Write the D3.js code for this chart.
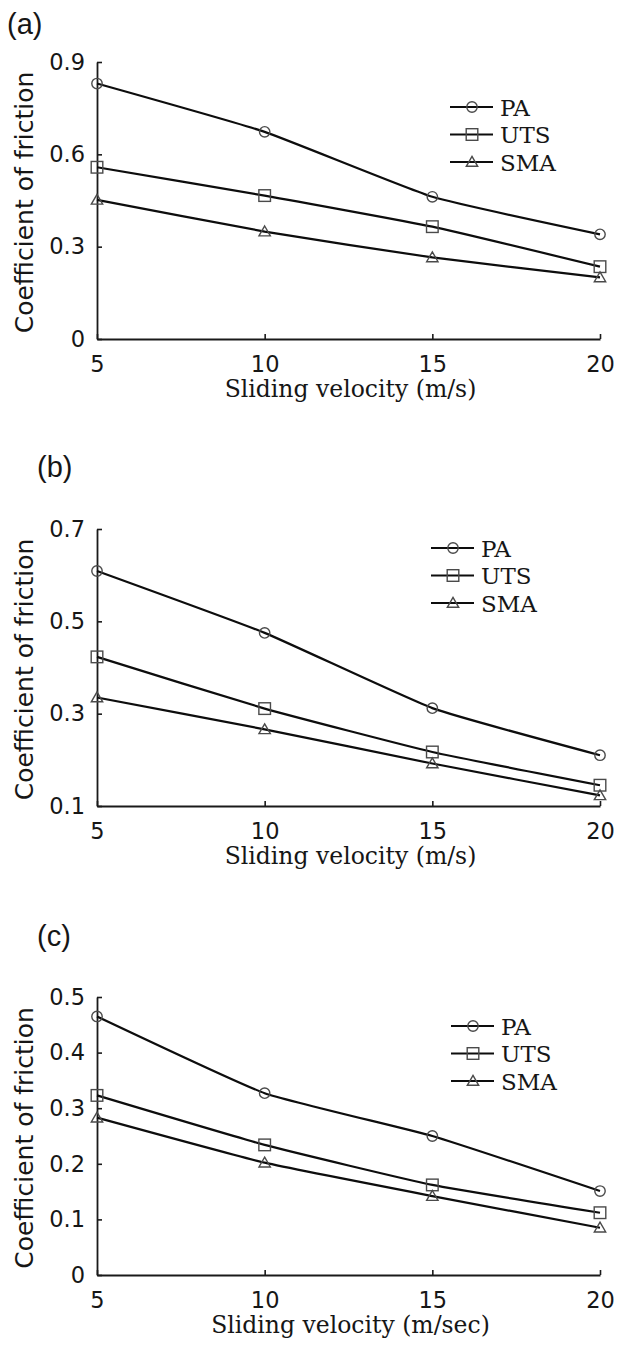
<!DOCTYPE html>
<html>
<head>
<meta charset="utf-8">
<script src="https://cdn.jsdelivr.net/npm/d3@7"></script>
<style>
  html, body { margin: 0; padding: 0; background: #fff; }
  svg { display: block; }
</style>
</head>
<body>
<svg id="chart" width="618" height="1349"></svg>
<script>
// ---- data ----
const velocity = [5, 10, 15, 20];
const seriesNames = ["PA", "UTS", "SMA"];

const aPA  = [0.830, 0.673, 0.462, 0.340];
const aUTS = [0.558, 0.466, 0.365, 0.235];
const aSMA = [0.452, 0.349, 0.265, 0.200];

const bPA  = [0.609, 0.475, 0.312, 0.210];
const bUTS = [0.423, 0.311, 0.217, 0.145];
const bSMA = [0.335, 0.266, 0.192, 0.123];

const cPA  = [0.465, 0.327, 0.250, 0.151];
const cUTS = [0.323, 0.234, 0.162, 0.112];
const cSMA = [0.283, 0.202, 0.142, 0.085];

const aYTicks = [0, 0.3, 0.6, 0.9];
const bYTicks = [0.1, 0.3, 0.5, 0.7];
const cYTicks = [0, 0.1, 0.2, 0.3, 0.4, 0.5];

const panelLabels = ["(a)", "(b)", "(c)"];
const xTitles = ["Sliding velocity (m/s)", "Sliding velocity (m/s)", "Sliding velocity (m/sec)"];
const yTitle = "Coefficient of friction";

// ---- layout ----
const svg = d3.select("#chart");
const xLeft = 97, xRight = 600;

const panels = [
  { label: panelLabels[0], labelPos: [7, 34], top: 62, bottom: 339, yTicks: aYTicks, fmt: d => d === 0 ? "0" : d3.format(".1f")(d),
    series: [aPA, aUTS, aSMA], xTitle: xTitles[0], legend: { x: 450, y: 107 } },
  { label: panelLabels[1], labelPos: [37, 477], top: 529, bottom: 806, yTicks: bYTicks, fmt: d3.format(".1f"),
    series: [bPA, bUTS, bSMA], xTitle: xTitles[1], legend: { x: 431, y: 548 } },
  { label: panelLabels[2], labelPos: [37, 946], top: 997, bottom: 1275, yTicks: cYTicks, fmt: d => d === 0 ? "0" : d3.format(".1f")(d),
    series: [cPA, cUTS, cSMA], xTitle: xTitles[2], legend: { x: 451, y: 1026 } }
];

const textCol = "#161616";
const markerCol = "#4a4a4a";

function drawMarker(g, type, x, y) {
  if (type === 0) {
    g.append("circle").attr("cx", x).attr("cy", y).attr("r", 5.2)
      .attr("fill", "none").attr("stroke", markerCol).attr("stroke-width", 1.4);
  } else if (type === 1) {
    g.append("rect").attr("x", x - 5.8).attr("y", y - 5.8).attr("width", 11.6).attr("height", 11.6)
      .attr("fill", "none").attr("stroke", markerCol).attr("stroke-width", 1.4);
  } else {
    const s = d3.symbol().type(d3.symbolTriangle).size(56)();
    g.append("path").attr("d", s).attr("transform", `translate(${x},${y + 1})`)
      .attr("fill", "none").attr("stroke", markerCol).attr("stroke-width", 1.4);
  }
}

panels.forEach(p => {
  const g = svg.append("g");
  const x = d3.scaleLinear().domain([5, 20]).range([xLeft, xRight]);
  const yMin = p.yTicks[0], yMax = p.yTicks[p.yTicks.length - 1];
  const y = d3.scaleLinear().domain([yMin, yMax]).range([p.bottom, p.top]);

  // panel label
  g.append("text").attr("x", p.labelPos[0]).attr("y", p.labelPos[1])
    .attr("font-family", "Liberation Sans, Arial, sans-serif").attr("font-size", 29)
    .attr("fill", textCol).text(p.label);

  // y axis
  const yAxis = d3.axisLeft(y).tickValues(p.yTicks).tickFormat(p.fmt).tickSizeInner(-5).tickSizeOuter(0).tickPadding(12);
  const ya = g.append("g").attr("transform", `translate(${xLeft},0)`).call(yAxis);
  ya.select(".domain").attr("stroke", "#1a1a1a").attr("stroke-width", 1.8);
  ya.selectAll(".tick line").attr("stroke", "#1a1a1a").attr("stroke-width", 1.6);
  ya.selectAll(".tick text").attr("font-family", "DejaVu Sans, sans-serif").attr("font-size", 22.5).attr("fill", textCol);

  // x axis
  const xAxis = d3.axisBottom(x).tickValues(velocity).tickSizeInner(-5).tickSizeOuter(0).tickPadding(17);
  const xa = g.append("g").attr("transform", `translate(0,${p.bottom})`).call(xAxis);
  xa.select(".domain").attr("stroke", "#1a1a1a").attr("stroke-width", 1.8);
  xa.selectAll(".tick line").attr("stroke", "#1a1a1a").attr("stroke-width", 1.6);
  xa.selectAll(".tick text").attr("font-family", "DejaVu Sans, sans-serif").attr("font-size", 22.5).attr("fill", textCol);

  // titles
  g.append("text").attr("x", (xLeft + xRight) / 2 + 2).attr("y", p.bottom + 58)
    .attr("text-anchor", "middle").attr("font-family", "DejaVu Serif, serif").attr("font-size", 23.5)
    .attr("fill", textCol).text(p.xTitle);
  g.append("text").attr("transform", `translate(33,${(p.top + p.bottom) / 2 + 2}) rotate(-90)`)
    .attr("text-anchor", "middle").attr("font-family", "DejaVu Sans, sans-serif").attr("font-size", 25)
    .attr("fill", textCol).text(yTitle);

  // lines and markers
  const line = d3.line().x((d, i) => x(velocity[i])).y(d => y(d)).curve(d3.curveCardinal.tension(0.6));
  p.series.forEach((vals, si) => {
    g.append("path").datum(vals).attr("d", line).attr("fill", "none")
      .attr("stroke", "#0d0d0d").attr("stroke-width", 2.2);
    vals.forEach((v, i) => drawMarker(g, si, x(velocity[i]), y(v)));
  });

  // legend
  seriesNames.forEach((name, si) => {
    const ly = p.legend.y + si * 27.5;
    g.append("line").attr("x1", p.legend.x).attr("x2", p.legend.x + 43).attr("y1", ly).attr("y2", ly)
      .attr("stroke", "#0d0d0d").attr("stroke-width", 2.2);
    drawMarker(g, si, p.legend.x + 22, ly);
    g.append("text").attr("x", p.legend.x + 50).attr("y", ly + 8.5)
      .attr("font-family", "DejaVu Serif, serif").attr("font-size", 23)
      .attr("fill", textCol).text(name);
  });
});
</script>
</body>
</html>
